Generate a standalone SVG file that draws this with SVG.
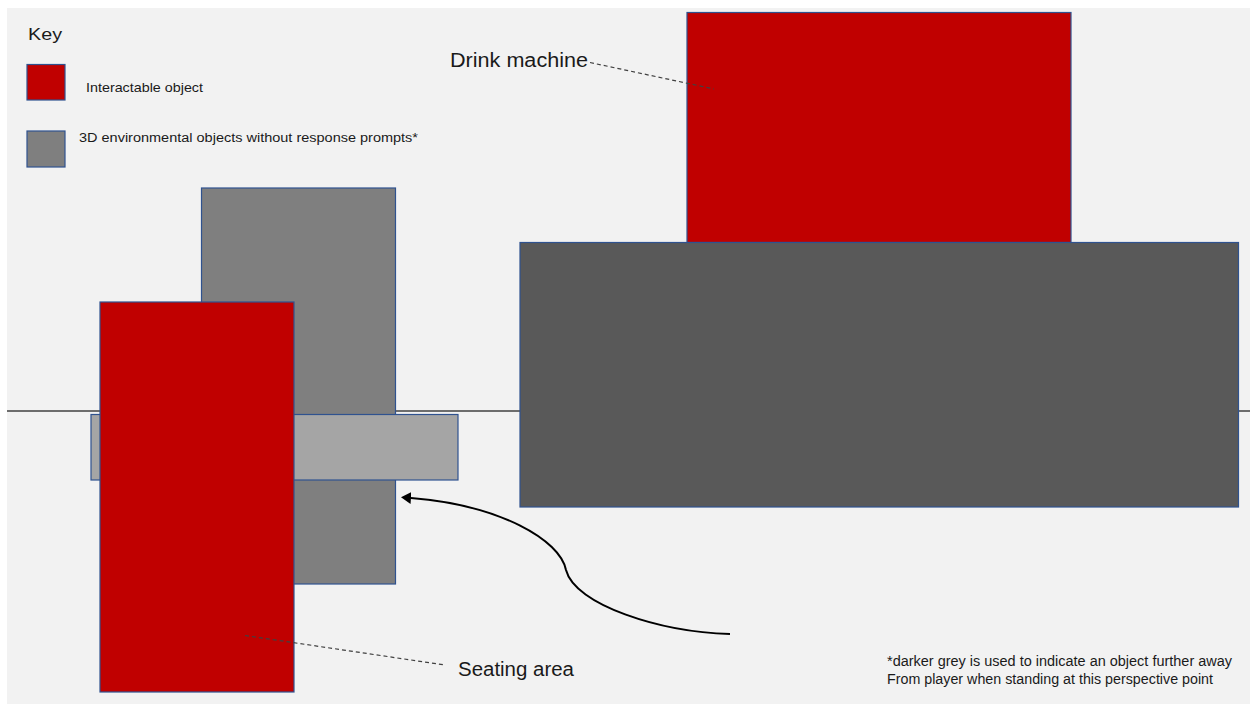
<svg xmlns="http://www.w3.org/2000/svg" width="1250" height="704" viewBox="0 0 1250 704">
<defs>
<style>
.obj{stroke:#2f528f;stroke-width:1.2}
.red{fill:#c00000}
.g1{fill:#7f7f7f}
.g2{fill:#a5a5a5}
.g3{fill:#595959}
.lbl{font-family:"Liberation Sans",Arial,sans-serif;fill:#1a1a1a}
.lead{stroke:#404040;stroke-width:1.2;stroke-dasharray:4 3;fill:none}
</style>
<marker id="ah" markerUnits="userSpaceOnUse" markerWidth="10" markerHeight="12" refX="0" refY="6" orient="auto" viewBox="0 0 10 12">
<path d="M0,0 L10,6 L0,12 z" fill="#000"/>
</marker>
</defs>
<rect x="0" y="0" width="1250" height="704" fill="#ffffff"/>
<rect x="7" y="8" width="1243" height="696" fill="#f2f2f2"/>
<line x1="7" y1="411" x2="1250" y2="411" stroke="#404040" stroke-width="1.5"/>

<g id="key">
<text class="lbl" x="28" y="40" font-size="16.5" textLength="34" lengthAdjust="spacingAndGlyphs">Key</text>
<rect class="obj red" x="27" y="64.5" width="38" height="35.5"/>
<text class="lbl" x="86" y="91.5" font-size="13" textLength="117" lengthAdjust="spacingAndGlyphs">Interactable object</text>
<rect class="obj g1" x="27" y="131" width="38" height="36"/>
<text class="lbl" x="79" y="142" font-size="12.5" textLength="339" lengthAdjust="spacingAndGlyphs">3D environmental objects without response prompts*</text>
</g>

<g id="tall-grey">
<rect class="obj g1" x="201.5" y="188" width="194" height="396"/>
</g>
<g id="bench">
<rect class="obj g2" x="91" y="414.5" width="367" height="65.5"/>
</g>
<g id="seating-area">
<rect class="obj red" x="100" y="302" width="194" height="390"/>
</g>
<g id="drink-machine">
<rect class="obj red" x="687" y="12.5" width="384" height="230"/>
</g>
<g id="dark-grey">
<rect class="obj g3" x="520" y="242.5" width="718.5" height="264.5"/>
</g>

<g id="connectors">
<line class="lead" x1="590" y1="62.5" x2="714" y2="89"/>
<line class="lead" x1="245" y1="635.5" x2="445" y2="665"/>
<path d="M 730 634 C 660 632, 575 605, 566 570 C 560 540, 500 505, 411 498" fill="none" stroke="#000" stroke-width="2" marker-end="url(#ah)"/>
</g>

<g id="labels">
<text class="lbl" x="450" y="67" font-size="20" textLength="138" lengthAdjust="spacingAndGlyphs">Drink machine</text>
<text class="lbl" x="458" y="676" font-size="20" textLength="116" lengthAdjust="spacingAndGlyphs">Seating area</text>
<text class="lbl" x="887" y="666" font-size="14" textLength="345" lengthAdjust="spacingAndGlyphs">*darker grey is used to indicate an object further away</text>
<text class="lbl" x="887" y="684" font-size="14" textLength="326" lengthAdjust="spacingAndGlyphs">From  player when standing at this perspective point</text>
</g>
</svg>
